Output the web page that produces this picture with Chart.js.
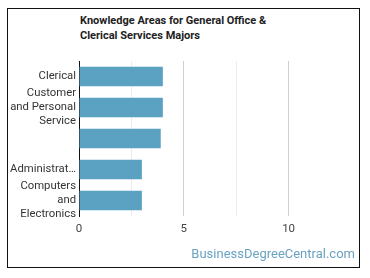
<!DOCTYPE html>
<html>
<head>
<meta charset="utf-8">
<script src="https://cdn.jsdelivr.net/npm/chart.js@4"></script>
<style>
  html, body { margin: 0; padding: 0; background: #fff; }
  #wrap { position: relative; width: 370px; height: 278px; overflow: hidden; background: #fff; }
  #frame { position: absolute; left: 7px; top: 8px; width: 351px; height: 258px; border: 1.5px solid #111; box-sizing: content-box; }
  #title { position: absolute; left: 80px; top: 13px; font: bold 11px Roboto, "Liberation Sans", sans-serif; color: #222; line-height: 15px; }
  #brand { position: absolute; right: 15px; top: 246px; font: 13px Roboto, "Liberation Sans", sans-serif; color: #6aa3c2; }
  canvas { position: absolute; left: 0; top: 0; }
</style>
</head>
<body>
<div id="wrap">
  <div id="frame"></div>
  <div id="title">Knowledge Areas for General Office &amp;<br>Clerical Services Majors</div>
  <canvas id="c" width="370" height="278"></canvas>
  <div id="brand">BusinessDegreeCentral.com</div>
</div>
<script>
const categories = [
  "Clerical",
  ["Customer", "and Personal", "Service"],
  "",
  "Administrat\u2026",
  ["Computers", "and", "Electronics"]
];
const values = [4.0, 4.0, 3.9, 3.0, 3.0];
const tickLabels = { 0: "0", 5: "5", 10: "10" };

new Chart(document.getElementById("c"), {
  type: "bar",
  data: {
    labels: categories,
    datasets: [{
      data: values,
      backgroundColor: "#5ba1c1",
      barPercentage: 0.63,
      categoryPercentage: 1.0
    }]
  },
  options: {
    indexAxis: "y",
    responsive: false,
    animation: false,
    layout: { padding: { top: 61, right: 29, bottom: 32, left: 0 } },
    plugins: { legend: { display: false }, tooltip: { enabled: false }, title: { display: false } },
    scales: {
      x: {
        min: 0, max: 12.5,
        ticks: {
          stepSize: 2.5,
          autoSkip: false,
          maxRotation: 0,
          padding: 6,
          color: "#444",
          font: { family: "Roboto", size: 11.5 },
          callback: (v) => tickLabels[v] !== undefined ? tickLabels[v] : ""
        },
        grid: {
          drawTicks: false,
          color: (ctx) => {
            const v = ctx.tick ? ctx.tick.value : 0;
            if (v >= 12.5) return "rgba(0,0,0,0)";
            return (v % 5 === 0) ? "#d0d0d0" : "#ececec";
          }
        },
        border: { display: false },
        afterFit: (s) => { s.height = 30; }
      },
      y: {
        ticks: {
          autoSkip: false,
          color: "#333",
          padding: 3,
          font: { family: "Roboto", size: 11.3, lineHeight: 1.24 }
        },
        grid: { display: false, drawTicks: false },
        border: { display: true, color: "#111", width: 1 },
        afterFit: (s) => { s.width = 79; }
      }
    }
  }
});
</script>
</body>
</html>
